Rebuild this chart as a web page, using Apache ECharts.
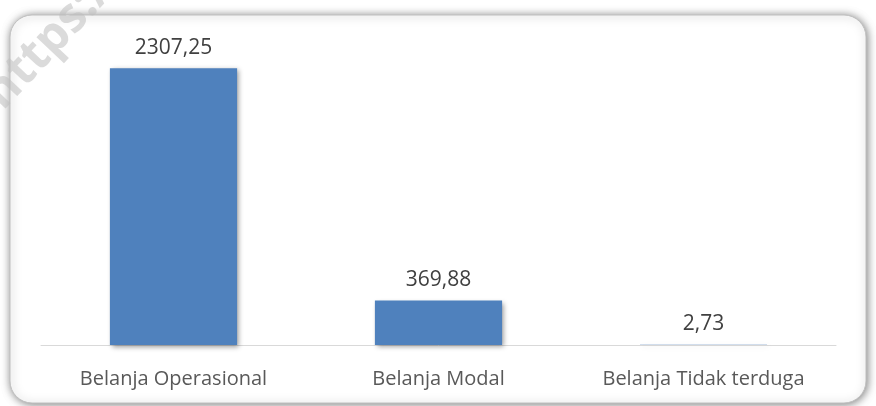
<!DOCTYPE html>
<html>
<head>
<meta charset="utf-8">
<script src="https://cdn.jsdelivr.net/npm/echarts@6/dist/echarts.min.js"></script>
<style>html,body{margin:0;padding:0;background:#fff;}#c{width:876px;height:406px;}</style>
</head>
<body>
<div id="c"></div>
<script>
const categories = ['Belanja Operasional', 'Belanja Modal', 'Belanja Tidak terduga'];
const values = [2307.25, 369.88, 2.73];
const valueLabels = ['2307,25', '369,88', '2,73'];

const chart = echarts.init(document.getElementById('c'));
chart.setOption({
  animation: false,
  backgroundColor: '#ffffff',
  graphic: [
    {
      type: 'rect', z: -10, silent: true,
      shape: { x: 10, y: 15, width: 856, height: 388, r: 22 },
      style: { fill: '#ffffff', stroke: '#c0c0c0', lineWidth: 1,
        shadowBlur: 9, shadowColor: 'rgba(0,0,0,0.5)', shadowOffsetX: 1, shadowOffsetY: 1 }
    },
    {
      type: 'text', z: 100, silent: true,
      x: -7, y: 102, rotation: Math.PI * 0.26,
      style: { text: 'https://', fill: 'rgba(190,190,190,0.55)', font: 'bold 48px "Open Sans"', verticalAlign: 'middle' }
    }
  ],
  grid: { left: 41, right: 40, top: 45, bottom: 61 },
  xAxis: {
    type: 'category', data: categories,
    axisLine: { lineStyle: { color: '#d9d9d9', width: 1 } },
    axisTick: { show: false },
    axisLabel: { color: '#595959', fontSize: 20, fontFamily: 'Open Sans', margin: 24 }
  },
  yAxis: {
    type: 'value', min: 0, max: 2500, show: false,
    splitLine: { show: false }
  },
  series: [{
    type: 'bar', data: values, barWidth: '48%',
    itemStyle: { color: '#4f81bd', shadowBlur: 5, shadowColor: 'rgba(0,0,0,0.4)', shadowOffsetX: 2, shadowOffsetY: 2 },
    label: { show: true, position: 'top', distance: 10, color: '#404040', fontSize: 21, fontFamily: 'Open Sans',
      formatter: p => valueLabels[p.dataIndex] }
  }]
});
</script>
</body>
</html>
